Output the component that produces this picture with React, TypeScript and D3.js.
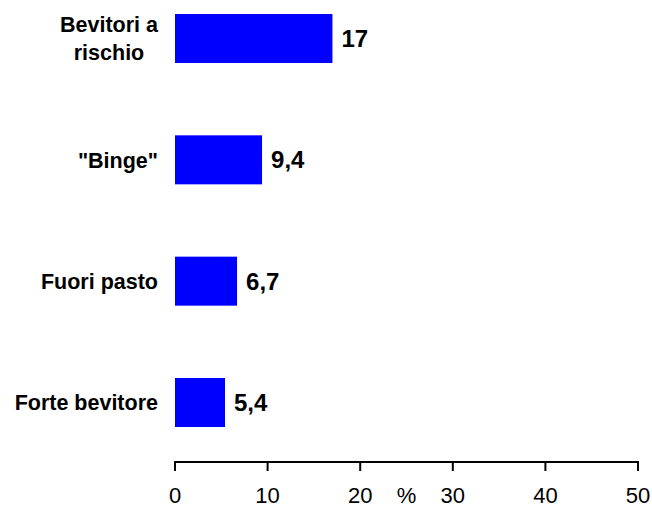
import React, { useEffect, useRef } from "react";
import * as d3 from "d3";

const categories: string[][] = [["Bevitori a", "rischio"], ["\"Binge\""], ["Fuori pasto"], ["Forte bevitore"]];
const values: number[] = [17, 9.4, 6.7, 5.4];
const valueLabels: string[] = ["17", "9,4", "6,7", "5,4"];
const tickValues: number[] = [0, 10, 20, 30, 40, 50];
const axisUnit = "%";

const W = 652;
const H = 508;
const FONT = "'Liberation Sans', Arial, Helvetica, sans-serif";

export default function App() {
  const ref = useRef<SVGSVGElement | null>(null);

  useEffect(() => {
    const svg = d3.select(ref.current);
    svg.selectAll("*").remove();

    const x = d3.scaleLinear().domain([0, 50]).range([175, 638]);
    const idx = categories.map((_, i) => String(i));
    const y = d3
      .scaleBand<string>()
      .domain(idx)
      .range([14, 427])
      .paddingInner(0.596)
      .paddingOuter(0);

    const bw = y.bandwidth();

    // bars
    svg
      .append("g")
      .selectAll("rect")
      .data(values)
      .join("rect")
      .attr("x", x(0))
      .attr("y", (_, i) => y(String(i))!)
      .attr("width", (d) => x(d) - x(0))
      .attr("height", bw)
      .attr("fill", "#0000ff");

    // value labels
    svg
      .append("g")
      .selectAll("text")
      .data(values)
      .join("text")
      .attr("x", (d) => x(d) + 9)
      .attr("y", (_, i) => y(String(i))! + bw / 2 + 8.6)
      .attr("font-family", FONT)
      .attr("font-weight", "bold")
      .attr("font-size", 24)
      .attr("fill", "#000")
      .text((_, i) => valueLabels[i]);

    // category labels
    const labelRight = 158;
    const lineH = 28;
    const catG = svg.append("g");
    categories.forEach((lines, i) => {
      const cy = y(String(i))! + bw / 2;
      const capH = 21.5 * 0.716;
      const totalH = capH + (lines.length - 1) * lineH;
      const firstBaseline = cy - totalH / 2 + capH;
      const texts = lines.map((ln, j) =>
        catG
          .append("text")
          .attr("y", firstBaseline + j * lineH)
          .attr("font-family", FONT)
          .attr("font-weight", "bold")
          .attr("font-size", 21.5)
          .attr("fill", "#000")
          .text(ln)
      );
      const widths = texts.map((t) => (t.node() as SVGTextElement).getComputedTextLength());
      const maxW = Math.max(...widths);
      const center = labelRight - maxW / 2;
      texts.forEach((t) => t.attr("x", center).attr("text-anchor", "middle"));
    });

    // axis
    const axisY = 462;
    const axisG = svg.append("g");
    axisG
      .append("line")
      .attr("x1", x(0))
      .attr("x2", x(50))
      .attr("y1", axisY)
      .attr("y2", axisY)
      .attr("stroke", "#000")
      .attr("stroke-width", 2);
    axisG
      .selectAll("line.tick")
      .data(tickValues)
      .join("line")
      .attr("class", "tick")
      .attr("x1", (d) => x(d))
      .attr("x2", (d) => x(d))
      .attr("y1", axisY - 1)
      .attr("y2", axisY + 9)
      .attr("stroke", "#000")
      .attr("stroke-width", 2);
    axisG
      .selectAll("text.tl")
      .data(tickValues)
      .join("text")
      .attr("class", "tl")
      .attr("x", (d) => x(d))
      .attr("y", 503.3)
      .attr("text-anchor", "middle")
      .attr("font-family", FONT)
      .attr("font-size", 22)
      .attr("fill", "#000")
      .text((d) => String(d));
    axisG
      .append("text")
      .attr("x", x(25))
      .attr("y", 503.3)
      .attr("text-anchor", "middle")
      .attr("font-family", FONT)
      .attr("font-size", 22)
      .attr("fill", "#000")
      .text(axisUnit);
  }, []);

  return (
    <svg
      ref={ref}
      width={W}
      height={H}
      style={{ position: "absolute", left: 0, top: 0, background: "#fff", display: "block" }}
    />
  );
}
